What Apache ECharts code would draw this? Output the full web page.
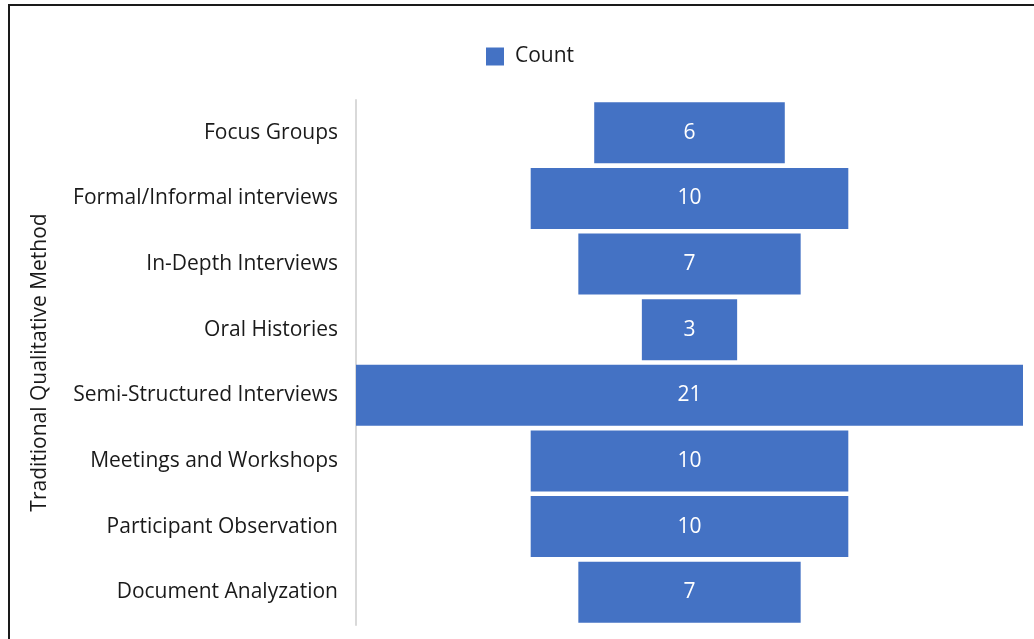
<!DOCTYPE html>
<html>
<head>
<meta charset="utf-8">
<script src="https://cdn.jsdelivr.net/npm/echarts@6/dist/echarts.min.js"></script>
<style>
  html, body { margin: 0; padding: 0; background: #fff; }
  #frame { position: absolute; left: 8px; top: 4px; width: 1026px; height: 635px;
           border-left: 2px solid #1a1a1a; border-top: 2px solid #1a1a1a; box-sizing: border-box; }
  #chart { position: absolute; left: 0; top: 0; width: 1034px; height: 639px; }
</style>
</head>
<body>
<div id="frame"></div>
<div id="chart"></div>
<script>
// Methods and how often each was used
const categories = [
  'Focus Groups',
  'Formal/Informal interviews',
  'In-Depth Interviews',
  'Oral Histories',
  'Semi-Structured Interviews',
  'Meetings and Workshops',
  'Participant Observation',
  'Document Analyzation'
];
const counts = [6, 10, 7, 3, 21, 10, 10, 7];
const seriesName = 'Count';
const axisTitle = 'Traditional Qualitative Method';

// Centre every bar on the widest one with an invisible leading segment
const widest = Math.max(...counts);
const offsets = counts.map(v => (widest - v) / 2);

const font = '"Open Sans", "Noto Sans", sans-serif';
const chart = echarts.init(document.getElementById('chart'), null, { renderer: 'canvas' });

chart.setOption({
  animation: false,
  textStyle: { fontFamily: font },
  legend: {
    data: [{ name: seriesName, icon: 'rect' }],
    top: 41,
    left: 481,
    itemWidth: 18,
    itemHeight: 18,
    textStyle: { fontSize: 21, color: '#1a1a1a', fontFamily: font, padding: [0, 0, 0, 6] }
  },
  grid: { left: 356, right: 11, top: 100, bottom: 14, containLabel: false },
  xAxis: {
    type: 'value',
    min: 0,
    max: widest,
    show: false
  },
  yAxis: {
    type: 'category',
    data: categories,
    inverse: true,
    name: axisTitle,
    nameLocation: 'middle',
    nameGap: 305,
    nameRotate: 90,
    nameTextStyle: { fontSize: 21, color: '#1a1a1a', fontFamily: font },
    axisLine: { show: true, lineStyle: { color: '#d9d9d9', width: 2 } },
    axisTick: { show: false },
    axisLabel: { fontSize: 21, color: '#1a1a1a', margin: 18, fontFamily: font, padding: [3, 0, 0, 0] }
  },
  series: [
    {
      name: 'offset',
      type: 'bar',
      stack: 'funnel',
      data: offsets,
      itemStyle: { color: 'transparent' },
      emphasis: { disabled: true },
      silent: true
    },
    {
      name: seriesName,
      type: 'bar',
      stack: 'funnel',
      data: counts,
      barCategoryGap: '7%',
      itemStyle: { color: '#4472c4' },
      label: {
        show: true,
        position: 'inside',
        color: '#ffffff',
        fontSize: 21,
        fontFamily: font,
        padding: [3, 0, 0, 0]
      }
    }
  ]
});
</script>
</body>
</html>
